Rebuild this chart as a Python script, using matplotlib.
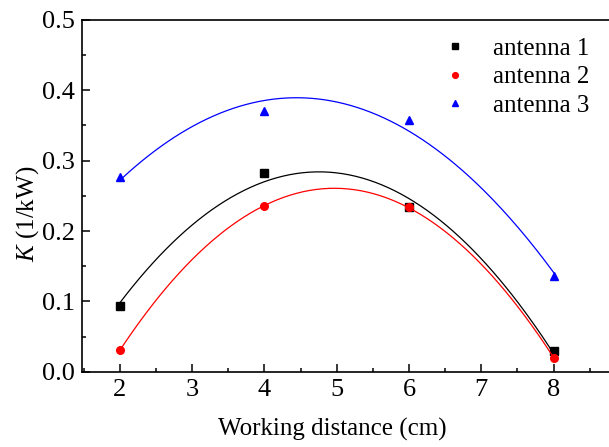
import numpy
from matplotlib import pyplot
from matplotlib.ticker import MultipleLocator

pyplot.rcParams["font.family"] = ["Liberation Serif", "DejaVu Serif"]
pyplot.rcParams["mathtext.fontset"] = "custom"
pyplot.rcParams["mathtext.it"] = "Liberation Serif:italic"
pyplot.rcParams["mathtext.rm"] = "Liberation Serif"

distance = numpy.asarray([2, 4, 6, 8])

antenna1 = numpy.asarray([0.094, 0.282, 0.234, 0.030])
antenna2 = numpy.asarray([0.031, 0.235, 0.234, 0.020])
antenna3 = numpy.asarray([0.277, 0.370, 0.357, 0.136])

fig = pyplot.figure(figsize=(6.09, 4.47), dpi=100)
axes = fig.add_axes([0.135, 0.168, 0.875, 0.788])

xfit = numpy.linspace(distance[0], distance[-1], 200)
for values, colour, marker, label in [
    (antenna1, "black", "s", "antenna 1"),
    (antenna2, "red", "o", "antenna 2"),
    (antenna3, "blue", "^", "antenna 3"),
]:
    coeffs = numpy.polyfit(distance, values, 2)
    axes.plot(xfit, numpy.polyval(coeffs, xfit), "-", color=colour, lw=0.9)
    axes.plot(distance, values, marker, color=colour, ms=5.5, ls="none",
              label=label)

axes.set_xlim(1.48, 8.85)
axes.set_ylim(0, 0.5)
axes.xaxis.set_major_locator(MultipleLocator(1))
axes.xaxis.set_minor_locator(MultipleLocator(0.5))
axes.yaxis.set_major_locator(MultipleLocator(0.1))
axes.yaxis.set_minor_locator(MultipleLocator(0.05))
axes.tick_params(which="both", direction="in", labelsize=19, pad=5)
axes.tick_params(which="major", length=6, width=1.1)
axes.tick_params(which="minor", length=3, width=1.1)
for side in ["left", "bottom", "top"]:
    axes.spines[side].set_linewidth(1.2)
axes.spines["right"].set_visible(False)

axes.set_xlabel("Working distance (cm)", fontsize=18)
axes.set_ylabel("$\\mathit{K}$ (1/kW)", fontsize=18)
axes.xaxis.set_label_coords(0.47, -0.13)
axes.yaxis.set_label_coords(-0.078, 0.45)

axes.legend(loc="upper left", bbox_to_anchor=(0.62, 1.0), frameon=False,
            fontsize=18, handletextpad=0.5, labelspacing=0.25,
            markerscale=0.75, borderaxespad=0.3)

fig.savefig("out.png", dpi=100)
